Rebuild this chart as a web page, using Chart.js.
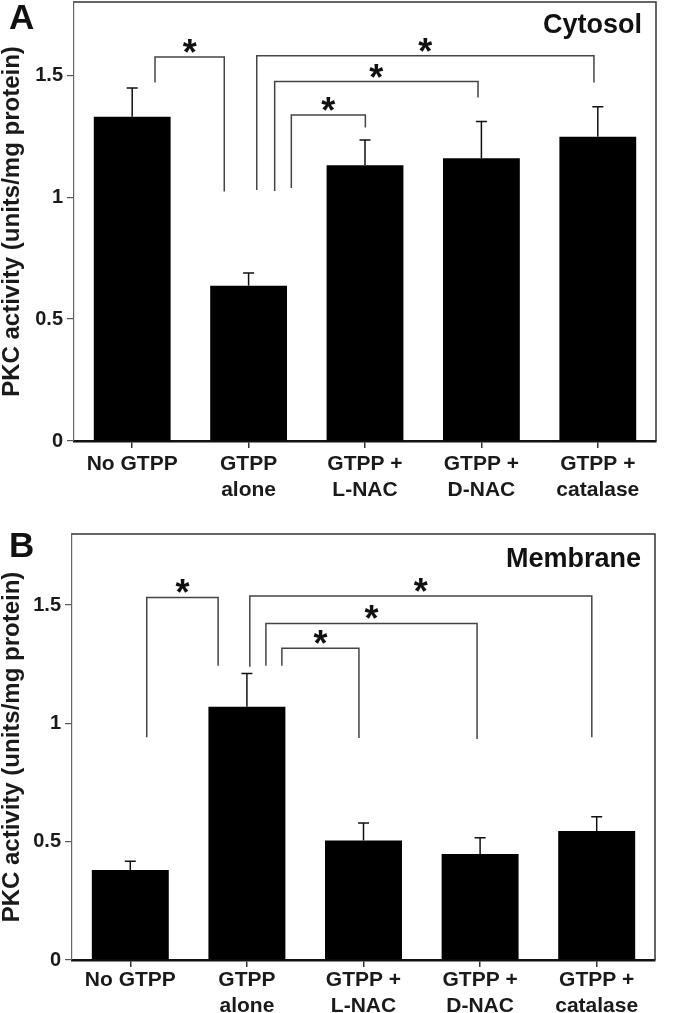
<!DOCTYPE html>
<html>
<head>
<meta charset="utf-8">
<script src="https://cdn.jsdelivr.net/npm/chart.js@4.4.1/dist/chart.umd.min.js"></script>
<style>
  html, body { margin: 0; padding: 0; background: #fff; }
  #wrapA { position: absolute; left: 0; top: 0; width: 693px; height: 505px; }
  #wrapB { position: absolute; left: 0; top: 505px; width: 693px; height: 508px; }
</style>
</head>
<body>
<div id="wrapA"><canvas id="chartA" width="693" height="505"></canvas></div>
<div id="wrapB"><canvas id="chartB" width="693" height="508"></canvas></div>
<script>
// data
const categories = ['No GTPP', ['GTPP', 'alone'], ['GTPP +', 'L-NAC'], ['GTPP +', 'D-NAC'], ['GTPP +', 'catalase']];
const yTicks = [0, 0.5, 1, 1.5];
const cytosolMeans = [1.33, 0.637, 1.131, 1.159, 1.247];
const cytosolErrors = [0.117, 0.052, 0.103, 0.151, 0.124];
const membraneMeans = [0.380, 1.070, 0.505, 0.448, 0.545];
const membraneErrors = [0.037, 0.141, 0.074, 0.069, 0.060];
// significance brackets: [from index, to index, left foot, top, right foot]
const cytosolBrackets = [
  [0.196, 0.791, 1.47, 1.575, 1.023],
  [1.070, 3.967, 1.029, 1.58, 1.47],
  [1.224, 2.971, 1.025, 1.474, 1.408],
  [1.367, 2.003, 1.037, 1.337, 1.285]
];
const membraneBrackets = [
  [0.141, 0.753, 0.941, 1.532, 1.243],
  [1.025, 3.958, 1.239, 1.538, 0.941],
  [1.163, 2.974, 1.243, 1.422, 0.934],
  [1.300, 1.961, 1.243, 1.317, 0.938]
];

const FONT = "'Liberation Sans', Arial, Helvetica, sans-serif";

// error bars, brackets, frame and panel texts
const extras = {
  id: 'extras',
  afterDatasetsDraw(chart, args, opts) {
    const { ctx, chartArea: a, scales: { x, y } } = chart;
    ctx.save();
    ctx.lineCap = 'butt';

    // top and right frame
    ctx.strokeStyle = '#333';
    ctx.lineWidth = 1.5;
    ctx.beginPath();
    ctx.moveTo(a.left, a.top);
    ctx.lineTo(a.right, a.top);
    ctx.lineTo(a.right, a.bottom);
    ctx.stroke();

    // one-sided error bars
    ctx.strokeStyle = '#111';
    ctx.lineWidth = 1.5;
    opts.means.forEach((m, i) => {
      const px = x.getPixelForValue(i);
      const y0 = y.getPixelForValue(m);
      const y1 = y.getPixelForValue(m + opts.errors[i]);
      ctx.beginPath();
      ctx.moveTo(px, y0);
      ctx.lineTo(px, y1);
      ctx.moveTo(px - 5.5, y1);
      ctx.lineTo(px + 5.5, y1);
      ctx.stroke();
    });

    // brackets with stars
    ctx.strokeStyle = '#444';
    ctx.lineWidth = 1.5;
    ctx.fillStyle = '#111';
    ctx.font = 'bold 36px ' + FONT;
    ctx.textAlign = 'center';
    ctx.textBaseline = 'alphabetic';
    const m = ctx.measureText('*');
    const half = (m.actualBoundingBoxAscent - m.actualBoundingBoxDescent) / 2;
    opts.brackets.forEach(b => {
      const x1 = x.getPixelForValue(b[0]);
      const x2 = x.getPixelForValue(b[1]);
      const top = y.getPixelForValue(b[3]);
      ctx.beginPath();
      ctx.moveTo(x1, y.getPixelForValue(b[2]));
      ctx.lineTo(x1, top);
      ctx.lineTo(x2, top);
      ctx.lineTo(x2, y.getPixelForValue(b[4]));
      ctx.stroke();
      ctx.fillText('*', (x1 + x2) / 2, top - 11 + half);
    });

    // panel letter and compartment name
    ctx.fillStyle = '#111';
    ctx.textAlign = 'left';
    ctx.font = 'bold 35px ' + FONT;
    ctx.fillText(opts.panel, 9, opts.panelY);
    ctx.textAlign = 'right';
    ctx.font = 'bold 27px ' + FONT;
    ctx.fillText(opts.title, a.right - 14, a.top + opts.titleDy);
    ctx.restore();
  }
};

function makeChart(id, means, errors, brackets, o) {
  return new Chart(document.getElementById(id), {
    type: 'bar',
    data: {
      labels: categories,
      datasets: [{
        data: means,
        backgroundColor: '#000',
        borderWidth: 0,
        categoryPercentage: 1,
        barPercentage: 0.66
      }]
    },
    options: {
      responsive: false,
      animation: false,
      layout: { padding: { left: 0, right: o.right, top: o.top, bottom: 0 } },
      plugins: {
        legend: { display: false },
        tooltip: { enabled: false },
        extras: { means, errors, brackets, panel: o.panel, panelY: o.panelY, title: o.title, titleDy: o.titleDy }
      },
      scales: {
        x: {
          grid: { display: true, drawOnChartArea: false, offset: false, tickLength: 7, color: '#333', lineWidth: 1.5 },
          border: { display: true, color: '#111', width: 2.5 },
          ticks: { color: '#1a1a1a', padding: o.xPad, font: { family: FONT, size: 21, weight: 'bold', lineHeight: 1.25 }, maxRotation: 0, autoSkip: false },
          afterFit: s => { s.height = o.xHeight; s.paddingLeft = 0; s.paddingRight = 0; }
        },
        y: {
          min: 0,
          max: 1.8,
          afterBuildTicks: s => { s.ticks = yTicks.map(v => ({ value: v })); },
          grid: { display: true, drawOnChartArea: false, tickLength: 7, color: '#555', lineWidth: 1.2 },
          border: { display: true, color: '#666', width: 1.2 },
          ticks: { color: '#1a1a1a', padding: 4, font: { family: FONT, size: 20, weight: 'bold' }, callback: v => String(v) },
          title: { display: true, text: 'PKC activity (units/mg protein)', color: '#1a1a1a', padding: { top: 0, bottom: 0 }, font: { family: FONT, size: 24, weight: 'bold', lineHeight: 1 } },
          afterFit: s => { s.width = o.yWidth; s.paddingTop = 0; s.paddingBottom = 0; }
        }
      }
    },
    plugins: [extras]
  });
}

makeChart('chartA', cytosolMeans, cytosolErrors, cytosolBrackets,
  { right: 37, top: 2, xHeight: 64, xPad: 3, yWidth: 74, panel: 'A', panelY: 29, title: 'Cytosol', titleDy: 31 });
makeChart('chartB', membraneMeans, membraneErrors, membraneBrackets,
  { right: 38, top: 29, xHeight: 53, xPad: 0, yWidth: 72, panel: 'B', panelY: 52, title: 'Membrane', titleDy: 33 });
</script>
</body>
</html>
